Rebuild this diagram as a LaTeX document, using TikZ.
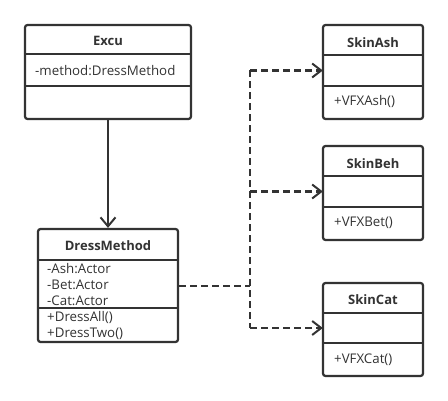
\documentclass[tikz,border=0pt]{standalone}
\usepackage{fontspec}
\setmainfont{Open Sans}
\usetikzlibrary{arrows.meta}
\definecolor{ink}{HTML}{333333}
\begin{document}
\begin{tikzpicture}[x=1pt,y=-1pt,
  box/.style={draw=ink, line width=2.2pt, rounded corners=2.5pt, inner sep=0pt, fill=white},
  sep/.style={draw=ink, line width=2pt},
  ttl/.style={font=\fontsize{13}{15}\selectfont\bfseries, text=ink, inner sep=0pt},
  txt/.style={font=\fontsize{13.3}{16}\selectfont, text=ink, inner sep=0pt, align=left, anchor=west},
  slot/.style={inner sep=0pt, minimum width=#1, minimum height=30pt},
  assoc/.style={draw=ink, line width=2.2pt, -{Straight Barb[length=9pt,width=15pt,line width=2pt]}},
  dep/.style={draw=ink, line width=2.4pt, dash pattern=on 7pt off 4pt},
  deparrow/.style={dep, -{Straight Barb[length=9pt,width=14pt,line width=2pt]}}
]
\useasboundingbox (0,0) rectangle (448,401);

% Excu
\node[box, minimum width=166pt, minimum height=94pt] (excu) at (108,72) {};
\node[ttl] (excuT) at (108,41) {Excu};
\node[txt] (excuA) at (35,71) {-method:DressMethod};
\draw[sep] (excu.west |- 0,54) -- (excu.east |- 0,54);
\draw[sep] (excu.west |- 0,86) -- (excu.east |- 0,86);

% DressMethod
\node[box, minimum width=140pt, minimum height=113pt] (dm) at (108,285.5) {};
\node[ttl] (dmT) at (108,246) {DressMethod};
\node[txt] (dmA) at (47,285) {-Ash:Actor\\-Bet:Actor\\-Cat:Actor};
\node[txt] (dmM) at (47,325) {+DressAll()\\+DressTwo()};
\draw[sep] (dm.west |- 0,260) -- (dm.east |- 0,260);
\draw[sep] (dm.west |- 0,308) -- (dm.east |- 0,308);

% SkinAsh
\node[box, minimum width=100pt, minimum height=94pt] (ash) at (373,72) {};
\node[ttl] (ashT) at (373,43) {SkinAsh};
\node[slot=100pt] (ashS) at (373,70.5) {};
\node[txt] (ashM) at (334,102) {+VFXAsh()};
\draw[sep] (ash.west |- 0,55) -- (ash.east |- 0,55);
\draw[sep] (ash.west |- 0,86) -- (ash.east |- 0,86);

% SkinBeh
\node[box, minimum width=100pt, minimum height=94pt] (beh) at (373,193) {};
\node[ttl] (behT) at (373,164) {SkinBeh};
\node[slot=100pt] (behS) at (373,191.5) {};
\node[txt] (behM) at (334,223) {+VFXBet()};
\draw[sep] (beh.west |- 0,176) -- (beh.east |- 0,176);
\draw[sep] (beh.west |- 0,207) -- (beh.east |- 0,207);

% SkinCat
\node[box, minimum width=100pt, minimum height=93pt] (cat) at (373,329.5) {};
\node[ttl] (catT) at (373,300) {SkinCat};
\node[slot=100pt] (catS) at (373,328) {};
\node[txt] (catM) at (334,360) {+VFXCat()};
\draw[sep] (cat.west |- 0,313) -- (cat.east |- 0,313);
\draw[sep] (cat.west |- 0,343) -- (cat.east |- 0,343);

% connectors
\draw[assoc] (excu.south) -- (dm.north);
\coordinate (j) at (250,286);
\coordinate (jt) at (j |- ashS.west);
\coordinate (jm) at (j |- behS.west);
\coordinate (jb) at (j |- catS.west);
\draw[dep] (dm.east |- j) -- (j);
\draw[dep] (jt) -- (jb);
\draw[deparrow] (jt) -- (ashS.west);
\draw[deparrow] (jm) -- (behS.west);
\draw[deparrow] (jb) -- (catS.west);
\end{tikzpicture}
\end{document}
